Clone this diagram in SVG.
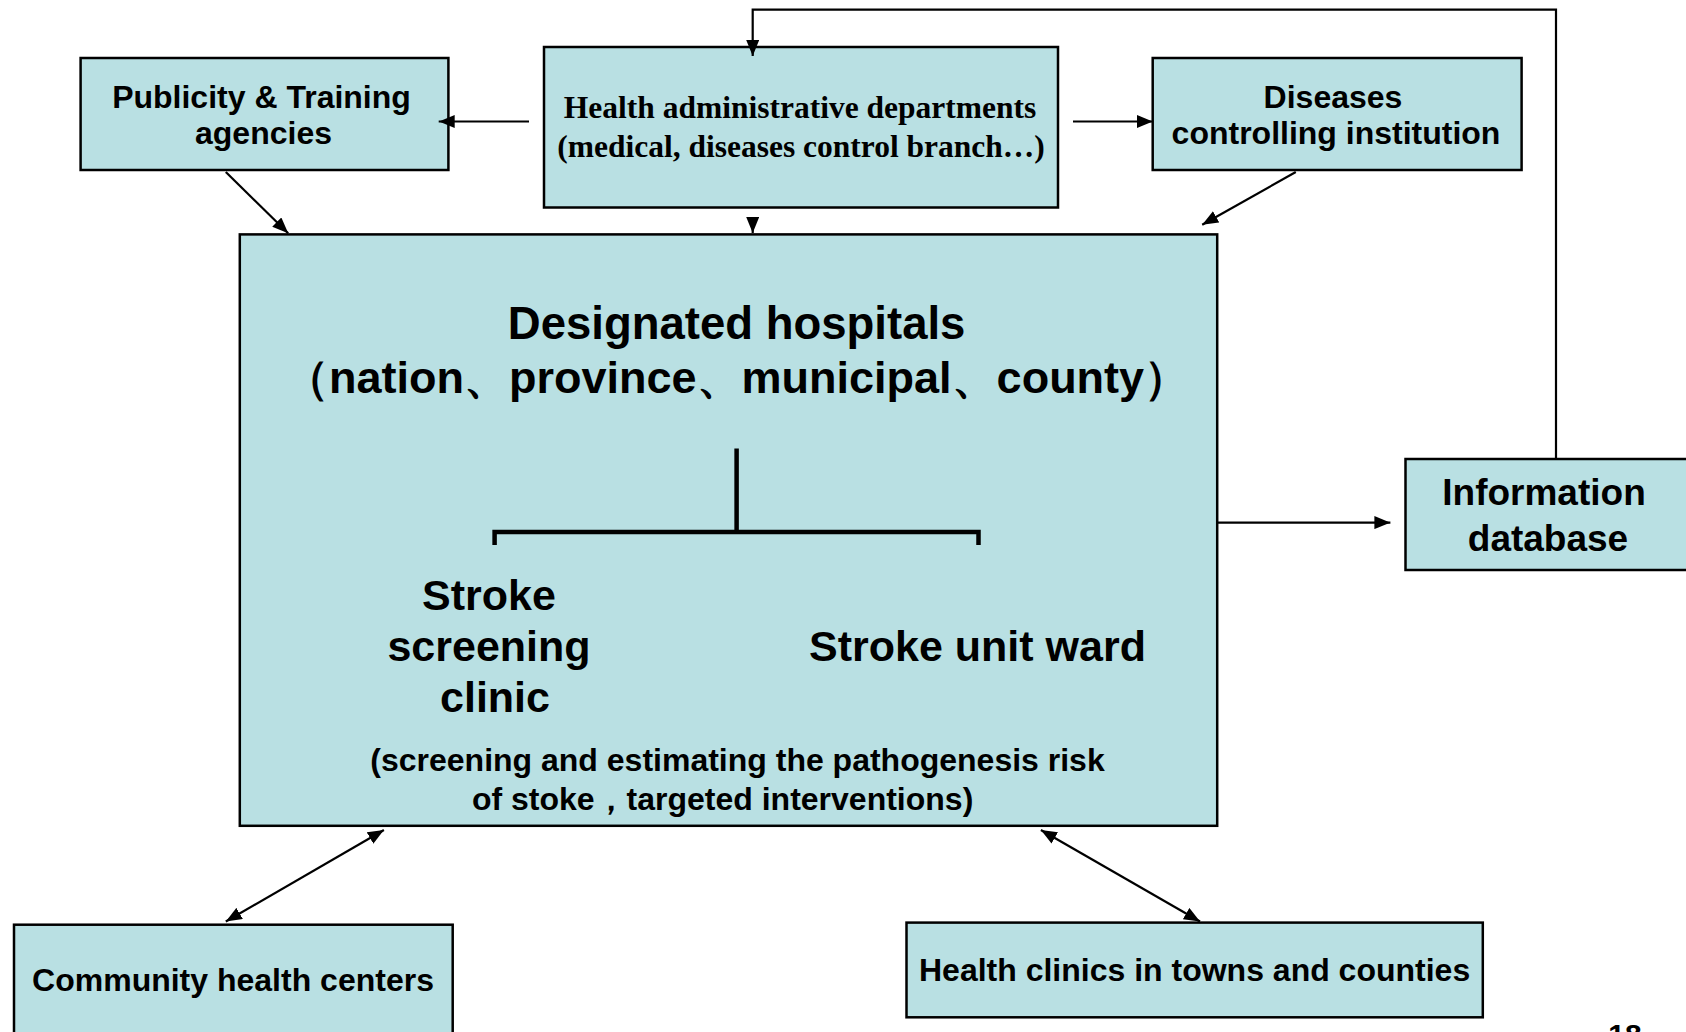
<svg xmlns="http://www.w3.org/2000/svg" width="1686" height="1032" viewBox="0 0 1686 1032">
<style>
.box{fill:#B9E0E3;stroke:#000;stroke-width:2.5}
.t{font-family:"Liberation Sans",Arial,sans-serif;font-weight:bold;fill:#000;text-anchor:middle}
.s{font-family:"Liberation Serif","Times New Roman",serif;font-weight:bold;fill:#000;text-anchor:middle}
.c{fill:none;stroke:#000;stroke-width:2.2}
.tree{fill:none;stroke:#000;stroke-width:4.5}
</style>
<defs>
<marker id="ah" markerUnits="userSpaceOnUse" markerWidth="16" markerHeight="13" refX="16" refY="6.5" orient="auto-start-reverse">
<path d="M0,0 L16,6.5 L0,13 z" fill="#000"/>
</marker>
</defs>
<rect width="1686" height="1032" fill="#fff"/>

<g id="publicity">
<rect class="box" x="80.6" y="58" width="367.8" height="112"/>
<text class="t" x="261.5" y="107.5" font-size="32">Publicity &amp; Training</text>
<text class="t" x="263.5" y="144" font-size="32">agencies</text>
</g>

<g id="health-admin">
<rect class="box" x="544" y="47" width="514" height="160.5"/>
<text class="s" x="800" y="118" font-size="31.5">Health administrative departments</text>
<text class="s" x="801" y="157" font-size="31.5">(medical, diseases control branch…)</text>
</g>

<g id="diseases">
<rect class="box" x="1152.7" y="58" width="368.9" height="112"/>
<text class="t" x="1333" y="107.5" font-size="32">Diseases</text>
<text class="t" x="1336" y="144" font-size="32">controlling institution</text>
</g>

<g id="hospitals">
<rect class="box" x="239.8" y="234.4" width="977.4" height="591.4"/>
<text class="t" x="736.6" y="339" font-size="45.5">Designated hospitals</text>
<text class="t" x="736.6" y="393" font-size="45" font-family="'Liberation Sans','Noto Sans CJK SC',sans-serif">（nation、province、municipal、county）</text>
<path class="tree" d="M736.6 448.4 V532 M494.6 545 V532 H978.5 V545"/>
<text class="t" x="489" y="609.7" font-size="43">Stroke</text>
<text class="t" x="489" y="661" font-size="43">screening</text>
<text class="t" x="495" y="712" font-size="43">clinic</text>
<text class="t" x="977.5" y="661" font-size="43">Stroke unit ward</text>
<text class="t" x="737.5" y="771" font-size="32">(screening and estimating the pathogenesis risk</text>
<text class="t" x="722.6" y="809.7" font-size="32" font-family="'Liberation Sans','Noto Sans CJK SC',sans-serif">of stoke，targeted interventions)</text>
</g>

<g id="info-db">
<rect class="box" x="1405.5" y="459" width="300" height="111"/>
<text class="t" x="1544" y="505.4" font-size="37">Information</text>
<text class="t" x="1548" y="550.5" font-size="37">database</text>
</g>

<g id="community">
<rect class="box" x="14" y="924.7" width="438.7" height="130"/>
<text class="t" x="233" y="991" font-size="32">Community health centers</text>
</g>

<g id="clinics">
<rect class="box" x="906.5" y="922.6" width="576.3" height="94.7"/>
<text class="t" x="1194.6" y="980.7" font-size="32">Health clinics in towns and counties</text>
</g>

<g id="connectors">
<path class="c" d="M1556 459 V9.7 H752.7 V56" marker-end="url(#ah)"/>
<path class="c" d="M529 121.5 H438.7" marker-end="url(#ah)"/>
<path class="c" d="M1073 121.5 H1152.7" marker-end="url(#ah)"/>
<path class="c" d="M225.8 172 L288.2 233.3" marker-end="url(#ah)"/>
<path class="c" d="M752.7 217 V233" marker-end="url(#ah)"/>
<path class="c" d="M1295.8 172 L1202.2 224.7" marker-end="url(#ah)"/>
<path class="c" d="M1217.2 522.6 H1390.4" marker-end="url(#ah)"/>
<path class="c" d="M225.8 921.5 L383.9 830" marker-start="url(#ah)" marker-end="url(#ah)"/>
<path class="c" d="M1200 921.5 L1040.9 830" marker-start="url(#ah)" marker-end="url(#ah)"/>
</g>

<text class="t" x="1625" y="1045" font-size="30">18</text>
</svg>
